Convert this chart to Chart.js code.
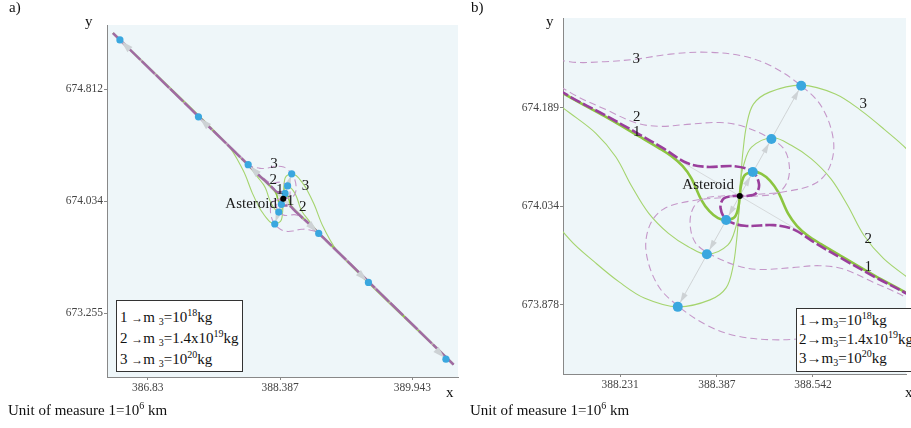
<!DOCTYPE html>
<html>
<head>
<meta charset="utf-8">
<script src="https://cdn.jsdelivr.net/npm/chart.js@4.4.1/dist/chart.umd.min.js"></script>
<style>
  body { margin: 0; background: #fff; }
  #wrap { position: relative; width: 911px; height: 428px; overflow: hidden; font-family: 'Liberation Serif', 'Times New Roman', serif; color: #111; }
  canvas { position: absolute; top: 0; }
  .txt { position: absolute; font-size: 15px; line-height: 15px; white-space: nowrap; }
  .leg { position: absolute; background: #fff; border: 1.5px solid #333; box-sizing: border-box; font-size: 15px; white-space: nowrap; }
  sup { font-size: 10px; vertical-align: 6px; line-height: 0; }
  sub { font-size: 10px; vertical-align: -3px; line-height: 0; }
  .ar { font-size: 12px; }
</style>
</head>
<body>
<div id="wrap">
  <canvas id="chartA" width="462" height="428" style="left:0"></canvas>
  <canvas id="chartB" width="451" height="428" style="left:460px"></canvas>

  <div class="txt" style="left:9px;top:0">a)</div>
  <div class="txt" style="left:471px;top:0">b)</div>
  <div class="txt" style="left:85px;top:14px">y</div>
  <div class="txt" style="left:546px;top:14px">y</div>
  <div class="txt" style="left:446px;top:385px">x</div>
  <div class="txt" style="left:905px;top:385px">x</div>
  <div class="txt" style="left:8px;top:403px">Unit of measure 1=10<sup>6</sup> km</div>
  <div class="txt" style="left:470px;top:403px">Unit of measure 1=10<sup>6</sup> km</div>

  <div class="leg" style="left:116px;top:300px;width:127px;height:72px;line-height:20px;padding:6px 0 0 3px">
    1 <span class="ar">→</span>m <sub>3</sub>=10<sup>18</sup>kg<br>
    2 <span class="ar">→</span>m <sub>3</sub>=1.4x10<sup>19</sup>kg<br>
    3 <span class="ar">→</span>m <sub>3</sub>=10<sup>20</sup>kg
  </div>
  <div class="leg" style="left:796px;top:308px;width:130px;height:64px;line-height:19px;padding:2px 0 0 2px">
    1→m<sub>3</sub>=10<sup>18</sup>kg<br>
    2→m<sub>3</sub>=1.4x10<sup>19</sup>kg<br>
    3→m<sub>3</sub>=10<sup>20</sup>kg
  </div>
</div>

<script>
// tick values of both panels (units of 10^6 km)
const xTicksA = [386.83, 388.387, 389.943];
const yTicksA = [673.255, 674.034, 674.812];
const xTicksB = [388.231, 388.387, 388.542];
const yTicksB = [673.878, 674.034, 674.189];

const asteroid = [[388.424, 674.050]];

// positions of the bodies (blue dots), near and far
const blueInner = [[388.523, 674.224], [388.475, 674.140], [388.445, 674.088],
                   [388.402, 674.012], [388.371, 673.958], [388.324, 673.875]];
const blueOuter = [[386.502, 675.156], [387.426, 674.621], [388.011, 674.288],
                   [388.841, 673.809], [389.426, 673.468], [390.338, 672.934]];

// trajectories, 1 -> m3=1e18, 2 -> 1.4e19, 3 -> 1e20 kg
const purple1 = [[386.420, 675.204], [388.150, 674.207], [388.206, 674.178], [388.259, 674.149],
  [388.301, 674.125], [388.339, 674.102], [388.370, 674.096], [388.416, 674.097], [388.445, 674.088],
  [388.455, 674.069], [388.450, 674.054], [388.434, 674.050], [388.424, 674.050], [388.414, 674.050],
  [388.398, 674.046], [388.393, 674.031], [388.403, 674.012], [388.432, 674.003], [388.478, 674.004],
  [388.509, 673.998], [388.547, 673.975], [388.589, 673.951], [388.642, 673.922], [388.698, 673.893],
  [390.428, 672.896]];

const purple2 = [[386.420, 675.204], [388.153, 674.212], [388.209, 674.186], [388.258, 674.165],
  [388.296, 674.160], [388.339, 674.163], [388.392, 674.166], [388.429, 674.160], [388.475, 674.140],
  [388.496, 674.123], [388.504, 674.096], [388.500, 674.071], [388.485, 674.055], [388.453, 674.050],
  [388.424, 674.050], [388.395, 674.050], [388.363, 674.045], [388.348, 674.029], [388.344, 674.004],
  [388.352, 673.977], [388.373, 673.960], [388.419, 673.940], [388.456, 673.934], [388.509, 673.937],
  [388.552, 673.940], [388.590, 673.935], [388.639, 673.914], [388.695, 673.888], [390.428, 672.896]];

const purple3 = [[386.420, 675.204], [388.011, 674.290], [388.150, 674.262], [388.206, 674.262],
  [388.256, 674.266], [388.312, 674.274], [388.370, 674.277], [388.429, 674.271], [388.477, 674.254],
  [388.523, 674.224], [388.556, 674.191], [388.575, 674.138], [388.569, 674.096], [388.546, 674.070],
  [388.498, 674.057], [388.445, 674.052], [388.424, 674.050], [388.403, 674.048], [388.350, 674.043],
  [388.302, 674.030], [388.279, 674.004], [388.273, 673.962], [388.292, 673.909], [388.325, 673.876],
  [388.371, 673.846], [388.419, 673.829], [388.478, 673.823], [388.536, 673.826], [388.592, 673.834],
  [388.642, 673.838], [388.698, 673.838], [388.837, 673.810], [390.428, 672.896]];

const green1 = [[386.420, 675.204], [388.150, 674.206], [388.206, 674.176], [388.262, 674.144],
  [388.293, 674.126], [388.315, 674.112], [388.332, 674.097], [388.346, 674.078], [388.362, 674.044],
  [388.375, 674.026], [388.389, 674.015], [388.402, 674.012], [388.416, 674.017], [388.422, 674.034],
  [388.424, 674.050], [388.426, 674.066], [388.432, 674.083], [388.446, 674.088], [388.459, 674.085],
  [388.473, 674.074], [388.486, 674.056], [388.502, 674.022], [388.516, 674.003], [388.533, 673.988],
  [388.555, 673.974], [388.586, 673.956], [388.642, 673.924], [388.698, 673.894], [390.428, 672.896]];

const green2 = [[386.420, 675.204], [388.000, 674.290], [388.150, 674.181], [388.192, 674.149],
  [388.224, 674.112], [388.250, 674.065], [388.277, 674.023], [388.309, 673.991], [388.341, 673.970],
  [388.371, 673.958], [388.405, 673.973], [388.418, 674.002], [388.423, 674.028], [388.424, 674.050],
  [388.425, 674.072], [388.430, 674.098], [388.443, 674.127], [388.477, 674.142], [388.507, 674.130],
  [388.539, 674.109], [388.571, 674.077], [388.598, 674.035], [388.624, 673.988], [388.656, 673.951],
  [388.698, 673.919], [388.848, 673.810], [390.428, 672.896]];

const green3 = [[386.420, 675.204], [387.750, 674.440], [387.950, 674.250], [388.060, 674.090],
  [388.150, 673.981], [388.192, 673.944], [388.230, 673.914], [388.270, 673.889], [388.324, 673.875],
  [388.376, 673.886], [388.402, 673.905], [388.413, 673.938], [388.419, 673.981], [388.422, 674.017],
  [388.424, 674.050], [388.426, 674.083], [388.429, 674.119], [388.435, 674.162], [388.446, 674.195],
  [388.472, 674.214], [388.524, 674.225], [388.578, 674.211], [388.618, 674.186], [388.656, 674.156],
  [388.698, 674.119], [388.788, 674.010], [388.898, 673.850], [389.098, 673.660], [390.428, 672.896]];

const diagonal = [[386.420, 675.204], [390.428, 672.896]];
const arrowLine = [[388.324, 673.875], [388.523, 674.224]];

// curve labels [text, x, y, align]
const labelsA = [['3', 388.315, 674.295], ['2', 388.307, 674.179], ['1', 388.382, 674.114],
  ['1', 388.510, 674.033], ['3', 388.686, 674.137], ['2', 388.654, 673.994],
  ['Asteroid', 388.350, 674.017, 'right']];
const labelsB = [['3', 388.257, 674.266], ['2', 388.258, 674.175], ['1', 388.258, 674.151],
  ['3', 388.623, 674.195], ['2', 388.631, 673.982], ['1', 388.631, 673.938],
  ['Asteroid', 388.373, 674.067]];

const serif = "'Liberation Serif', 'Times New Roman', serif";
const pts = arr => arr.map(([x, y]) => ({x, y}));

function line(label, data, color, width, dash, order) {
    return {
        label: label, data: pts(data), showLine: true, pointRadius: 0,
        borderColor: color, borderWidth: width, borderDash: dash || [],
        tension: 0.35, order: order
    };
}

function buildDatasets(big) {
    return [
        { label: 'Asteroid', data: pts(asteroid), pointRadius: 3, backgroundColor: '#000', borderWidth: 0, order: 0 },
        { label: 'positions', data: pts(blueInner.concat(blueOuter)), pointRadius: big ? 5 : 3.6,
          backgroundColor: '#3aa7df', borderWidth: 0, order: 0 },
        line('1 purple', purple1, big ? '#9a3f9c' : '#a06aa3', big ? 2.6 : 2.4, big ? [11, 3] : [18, 2], 2),
        line('2 purple', purple2, '#c597c9', 1.1, [7, 4], 3),
        line('3 purple', purple3, '#c597c9', 1.1, [7, 4], 3),
        line('1 green', green1, '#8cc540', big ? 2.6 : 1.6, null, 4),
        line('2 green', green2, '#a5d46e', 1.1, null, 5),
        line('3 green', green3, '#a5d46e', 1.1, null, 5),
        line('diagonal', diagonal, '#d6dadc', big ? 1 : 3, null, 8),
        line('arrow', arrowLine, '#d0d4d6', 1, null, 8)
    ];
}

// light blue plot background
const plotBg = {
    id: 'plotBg',
    beforeDraw(chart) {
        const {ctx, chartArea: a} = chart;
        ctx.save();
        ctx.fillStyle = '#eef6f9';
        ctx.fillRect(a.left, a.top, a.right - a.left, a.bottom - a.top);
        ctx.restore();
    }
};

// grey arrowheads from the asteroid towards each position
function arrowPlugin(len, gap) {
    return {
        id: 'arrows',
        beforeDatasetDraw(chart, args) {
            if (args.index !== 1) return;
            const {ctx, chartArea: a, scales: {x, y}} = chart;
            const ax = x.getPixelForValue(asteroid[0][0]), ay = y.getPixelForValue(asteroid[0][1]);
            ctx.save();
            ctx.beginPath();
            ctx.rect(a.left, a.top, a.right - a.left, a.bottom - a.top);
            ctx.clip();
            ctx.fillStyle = '#cdd2d5';
            blueInner.concat(blueOuter).forEach(([vx, vy]) => {
                const px = x.getPixelForValue(vx), py = y.getPixelForValue(vy);
                const dx = px - ax, dy = py - ay, d = Math.hypot(dx, dy);
                const ux = dx / d, uy = dy / d;
                const l = Math.min(len, d * 0.45), w = l * 0.6;
                const tx = px - ux * gap, ty = py - uy * gap;
                const bx = tx - ux * l, by = ty - uy * l;
                ctx.beginPath();
                ctx.moveTo(tx, ty);
                ctx.lineTo(bx - uy * w / 2, by + ux * w / 2);
                ctx.lineTo(bx + uy * w / 2, by - ux * w / 2);
                ctx.closePath();
                ctx.fill();
            });
            ctx.restore();
        }
    };
}

function labelPlugin(items) {
    return {
        id: 'curveLabels',
        afterDatasetsDraw(chart) {
            const {ctx, scales: {x, y}} = chart;
            ctx.save();
            ctx.font = '15px ' + serif;
            ctx.fillStyle = '#1a1a1a';
            ctx.textBaseline = 'middle';
            items.forEach(([t, vx, vy, align]) => {
                ctx.textAlign = align || 'center';
                ctx.fillText(t, x.getPixelForValue(vx), y.getPixelForValue(vy));
            });
            ctx.restore();
        }
    };
}

function axis(min, max, ticks, fit) {
    return {
        type: 'linear', min: min, max: max,
        afterBuildTicks: s => { s.ticks = ticks.map(v => ({value: v})); },
        afterFit: fit,
        ticks: {
            autoSkip: false, maxRotation: 0, padding: 1, color: '#444',
            font: {family: serif, size: 11.5},
            callback: v => String(v)
        },
        grid: { drawOnChartArea: false, drawTicks: true, tickLength: 3, color: '#888' },
        border: { color: '#888' }
    };
}

function makeChart(id, c) {
    return new Chart(document.getElementById(id), {
        type: 'scatter',
        data: { datasets: buildDatasets(c.big) },
        options: {
            responsive: false, animation: false, devicePixelRatio: 1,
            layout: { padding: { top: c.top, right: c.right, left: 0, bottom: 0 } },
            elements: { line: { capBezierPoints: false } },
            plugins: { legend: {display: false}, tooltip: {enabled: false} },
            scales: {
                x: axis(c.xMin, c.xMax, c.xTicks, s => { s.height = c.xH; }),
                y: axis(c.yMin, c.yMax, c.yTicks, s => { s.width = c.yW; })
            }
        },
        plugins: [plotBg, arrowPlugin(c.arrowLen, c.gap), labelPlugin(c.labels)]
    });
}

makeChart('chartA', {
    big: false, top: 25, right: 2, xH: 51, yW: 107,
    xMin: 386.35, xMax: 390.48, yMin: 672.81, yMax: 675.26,
    xTicks: xTicksA, yTicks: yTicksA, labels: labelsA, arrowLen: 12, gap: 2
});

makeChart('chartB', {
    big: true, top: 18, right: 0, xH: 54, yW: 103,
    xMin: 388.139, xMax: 388.692, yMin: 673.769, yMax: 674.331,
    xTicks: xTicksB, yTicks: yTicksB, labels: labelsB, arrowLen: 10, gap: 5
});
</script>
</body>
</html>
